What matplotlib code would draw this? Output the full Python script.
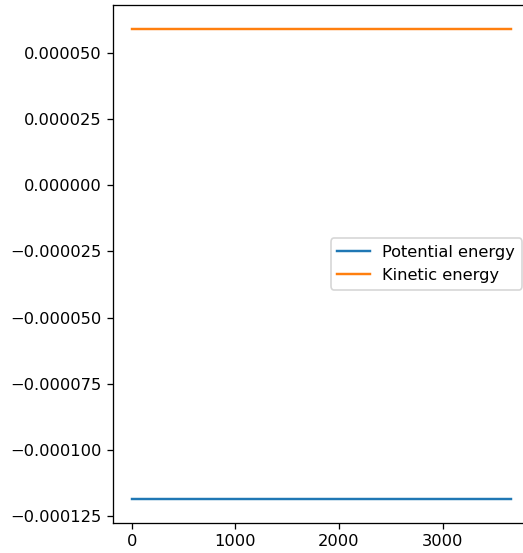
import numpy as np
import matplotlib
matplotlib.use("Agg")
import matplotlib.pyplot as plt

steps = [0, 500, 1000, 1500, 2000, 2500, 3000, 3500, 3662]
potential = [-0.0001186, -0.0001186, -0.0001186, -0.0001186, -0.0001186,
             -0.0001186, -0.0001186, -0.0001186, -0.0001186]
kinetic = [0.0000591, 0.0000591, 0.0000591, 0.0000591, 0.0000591,
           0.0000591, 0.0000591, 0.0000591, 0.0000591]

DPI = 117
fig = plt.figure(figsize=(523 / DPI, 553 / DPI), dpi=DPI)
# axes run past the right edge, like the cropped original
ax = fig.add_axes([113 / 523, 30 / 553, (530 - 113) / 523, 518 / 553])

ax.plot(steps, potential, label="Potential energy")
ax.plot(steps, kinetic, label="Kinetic energy")

ax.set_yticks([0.00005, 0.000025, 0.0, -0.000025, -0.00005,
               -0.000075, -0.0001, -0.000125])
ax.yaxis.set_major_formatter(matplotlib.ticker.FuncFormatter(
    lambda v, p: ("\u2212" if v < -1e-12 else "") + "%.6f" % abs(v)))
ax.set_xticks([0, 1000, 2000, 3000])

ax.legend(loc="center right")

fig.savefig("out.png", dpi=DPI)
